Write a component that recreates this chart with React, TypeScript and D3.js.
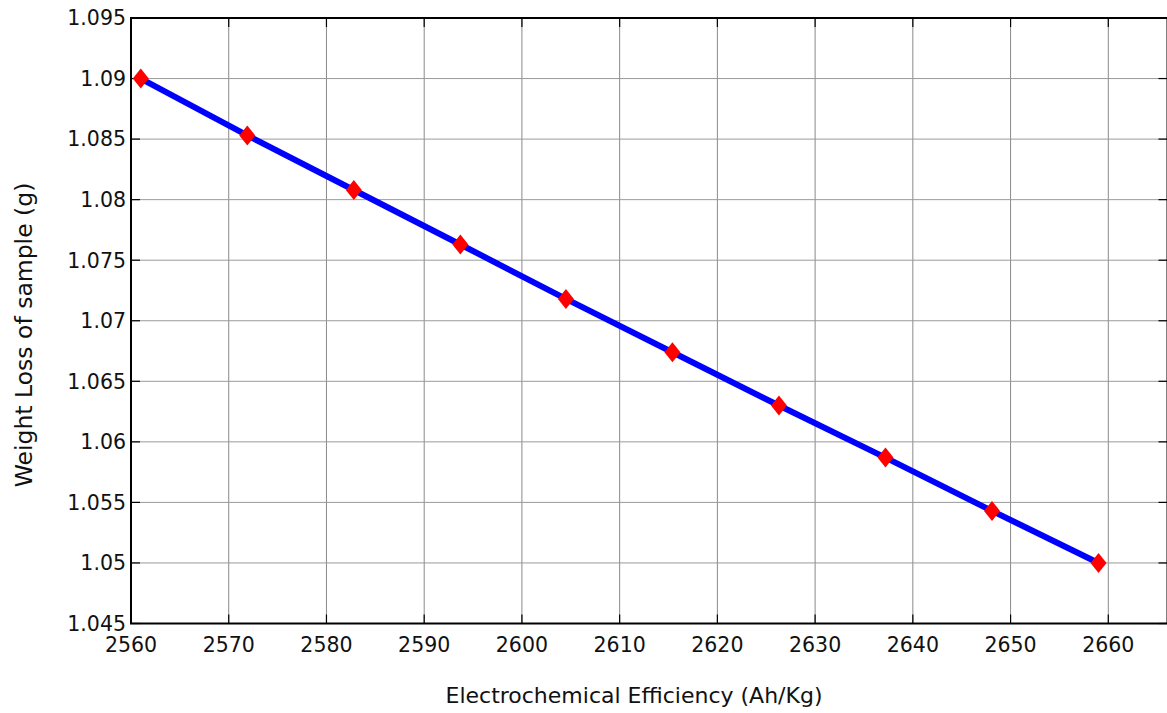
import React from "react";
import * as d3 from "d3";

const xValues = [2561, 2571.9, 2582.8, 2593.7, 2604.5, 2615.4, 2626.3, 2637.2, 2648.1, 2659];
const yValues = [1.09, 1.0853, 1.0808, 1.0763, 1.0718, 1.0674, 1.063, 1.0587, 1.0543, 1.05];
const xTicks = [2560, 2570, 2580, 2590, 2600, 2610, 2620, 2630, 2640, 2650, 2660];
const yTicks = [1.045, 1.05, 1.055, 1.06, 1.065, 1.07, 1.075, 1.08, 1.085, 1.09, 1.095];
const xLabel = "Electrochemical Efficiency (Ah/Kg)";
const yLabel = "Weight Loss of sample (g)";

const W = 1167;
const H = 713;
const left = 131;
const right = 1167.5;
const top = 18;
const bottom = 623.5;

export default function App() {
  const x = d3.scaleLinear().domain([2560, 2660]).range([left, 1108.3]);
  const y = d3.scaleLinear().domain([1.045, 1.095]).range([bottom, top]);
  const pts = xValues.map((v, i) => [x(v), y(yValues[i])] as [number, number]);
  const line = d3.line()(pts) || "";
  const font = "'DejaVu Sans', Verdana, sans-serif";
  const tl = 9;
  return (
    <svg width={W} height={H} style={{ position: "absolute", left: 0, top: 0, background: "#fff" }}>
      <rect x={0} y={0} width={W} height={H} fill="#fff" />
      {xTicks.map((t) => (
        <line key={"gx" + t} x1={x(t)} x2={x(t)} y1={top} y2={bottom} stroke="#8a8a8a" strokeWidth={1} />
      ))}
      {yTicks.map((t) => (
        <line key={"gy" + t} x1={left} x2={right} y1={y(t)} y2={y(t)} stroke="#9a9a9a" strokeWidth={1} />
      ))}
      {xTicks.map((t) => (
        <g key={"tx" + t}>
          <line x1={x(t)} x2={x(t)} y1={bottom} y2={bottom - tl} stroke="#000" strokeWidth={1.2} />
          <line x1={x(t)} x2={x(t)} y1={top} y2={top + tl} stroke="#000" strokeWidth={1.2} />
          <text x={x(t)} y={652} textAnchor="middle" fontFamily={font} fontSize={20.5} fill="#111">
            {t}
          </text>
        </g>
      ))}
      {yTicks.map((t) => (
        <g key={"ty" + t}>
          <line x1={left} x2={left + tl} y1={y(t)} y2={y(t)} stroke="#000" strokeWidth={1.2} />
          <line x1={right - tl} x2={right} y1={y(t)} y2={y(t)} stroke="#000" strokeWidth={1.2} />
          <text x={126} y={y(t)} dy="0.36em" textAnchor="end" fontFamily={font} fontSize={20.5} fill="#111">
            {String(t)}
          </text>
        </g>
      ))}
      <rect x={left} y={top} width={right - left} height={bottom - top} fill="none" stroke="#000" strokeWidth={2} />
      <path d={line} fill="none" stroke="#0000ff" strokeWidth={6} />
      {pts.map((p, i) => (
        <path
          key={"m" + i}
          d={`M${p[0]},${p[1] - 10}L${p[0] + 8},${p[1]}L${p[0]},${p[1] + 10}L${p[0] - 8},${p[1]}Z`}
          fill="#ff0000"
        />
      ))}
      <text x={634} y={703} textAnchor="middle" fontFamily={font} fontSize={22} fill="#111">
        {xLabel}
      </text>
      <text
        transform={`translate(31.5,335) rotate(-90)`}
        textAnchor="middle"
        fontFamily={font}
        fontSize={23.5}
        fill="#111"
      >
        {yLabel}
      </text>
    </svg>
  );
}
